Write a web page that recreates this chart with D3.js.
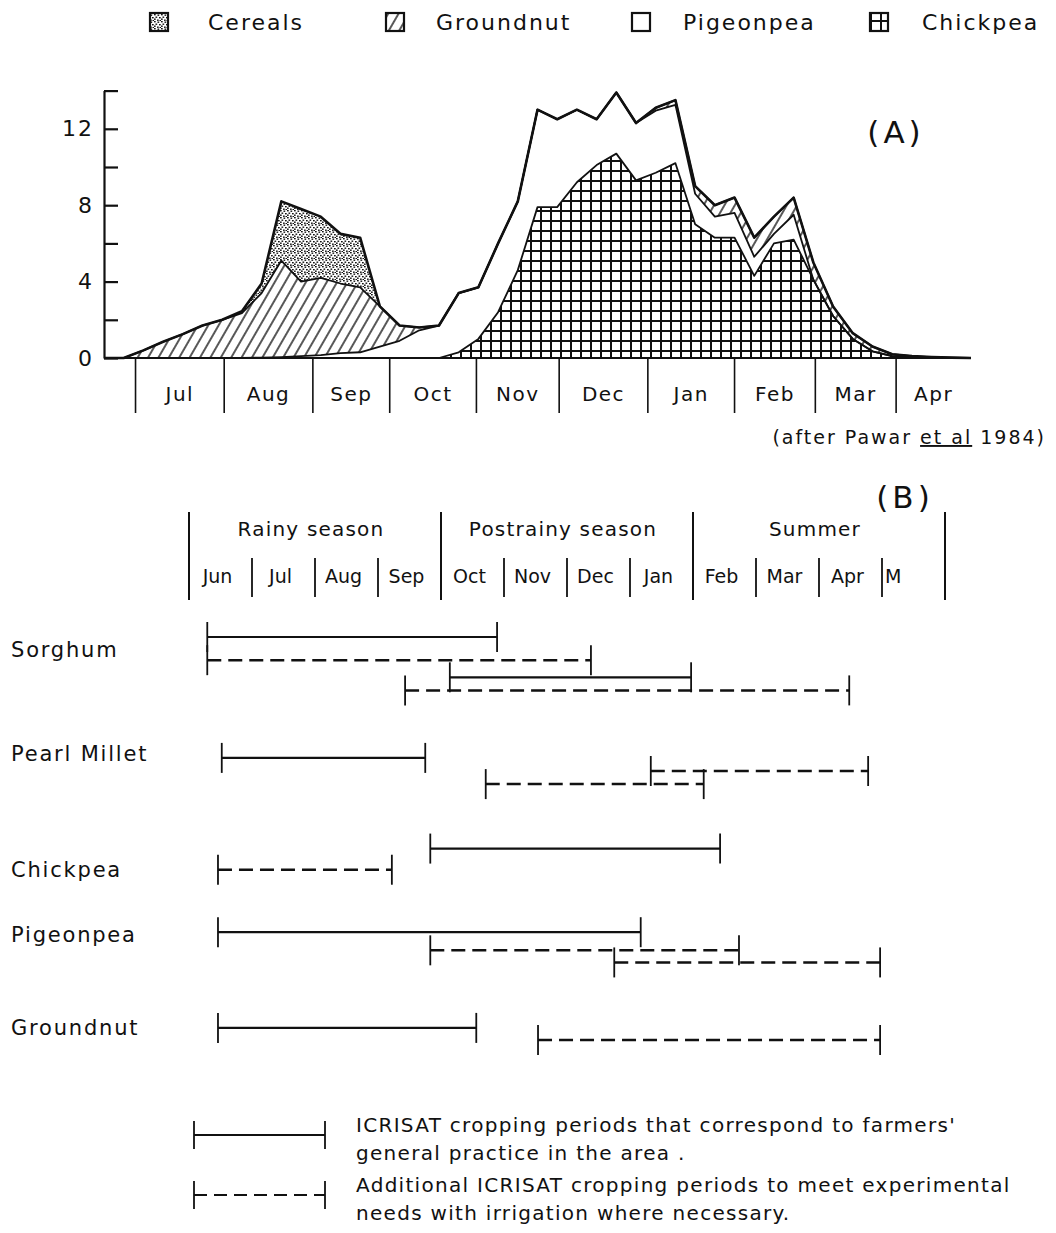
<!DOCTYPE html>
<html>
<head>
<meta charset="utf-8">
<script src="https://cdn.jsdelivr.net/npm/d3@7"></script>
<style>
  body { margin: 0; background: #fff; }
  svg { display: block; font-family: "DejaVu Sans", "Noto Sans", sans-serif; }
  text { fill: #111; }
</style>
</head>
<body>
<svg id="chart" width="1056" height="1233"></svg>
<script>
// ---- panel A: weekly area (weeks from mid June) ----
var weeks = d3.range(0, 45);
var chickpea  = [0,0,0,0,0, 0,0,0,0,0, 0,0,0,0,0, 0,0,0,0.3,1.0, 2.4,4.6,7.9,7.9,9.2,
                 10.1,10.7,9.3,9.7,10.2, 7.0,6.3,6.3,4.3,6.0, 6.2,4.1,2.2,1.0,0.35, 0.1,0.03,0.01,0,0];
var pigeonpea = [0,0,0,0,0, 0,0,0,0.02,0.05, 0.1,0.15,0.25,0.3,0.6, 0.9,1.45,1.7,3.1,2.7,
                 3.6,3.6,5.1,4.6,3.8, 2.4,3.2,3.0,3.25,3.05, 1.6,1.1,1.3,1.0,0.5, 1.3,0,0,0,0, 0,0,0,0,0];
var groundnut = [0,0,0.4,0.85,1.25, 1.7,2.0,2.35,3.38,5.05, 3.9,4.05,3.65,3.4,2.1, 0.8,0.15,0,0,0,
                 0,0,0,0,0, 0,0,0,0.15,0.25, 0.4,0.6,0.8,1.0,0.9, 0.9,0.9,0.5,0.3,0.25, 0.1,0.07,0.04,0.02,0];
var cereals   = [0,0,0,0,0, 0,0,0.1,0.5,3.1, 3.8,3.2,2.6,2.6,0, 0,0,0,0,0,
                 0,0,0,0,0, 0,0,0,0,0, 0,0,0,0,0, 0,0,0,0,0, 0,0,0,0,0];

var monthsA = ["Jul","Aug","Sep","Oct","Nov","Dec","Jan","Feb","Mar","Apr"];
var monthStartA = [1.6, 6.1, 10.6, 14.5, 18.9, 23.1, 27.6, 32.0, 36.1, 40.2];
var yTicks = [0, 2, 4, 6, 8, 10, 12, 14];
var yLabels = [0, 4, 8, 12];

var legendNames = ["Cereals", "Groundnut", "Pigeonpea", "Chickpea"];

// ---- panel B: cropping calendar (months from 1 June) ----
var monthsB = ["Jun","Jul","Aug","Sep","Oct","Nov","Dec","Jan","Feb","Mar","Apr","M"];
var seasonNames = ["Rainy season", "Postrainy season", "Summer"];
var seasonBounds = [0, 4, 8, 12];
var crops = ["Sorghum", "Pearl Millet", "Chickpea", "Pigeonpea", "Groundnut"];
var cropLane = [1.3, 11.6, 23.1, 29.6, 38.8];
// one entry per bar: crop, start month, end month, dashed?, lane
var periodCrop  = ["Sorghum","Sorghum","Sorghum","Sorghum","Pearl Millet","Pearl Millet","Pearl Millet",
                   "Chickpea","Chickpea","Pigeonpea","Pigeonpea","Pigeonpea","Groundnut","Groundnut"];
var periodStart = [0.29, 0.29, 4.14, 3.43, 0.52, 7.33, 4.71, 3.83, 0.46, 0.46, 3.83, 6.75, 0.46, 5.54];
var periodEnd   = [4.89, 6.38, 7.97, 10.48, 3.75, 10.78, 8.17, 8.43, 3.22, 7.17, 8.73, 10.97, 4.56, 10.97];
var periodDash  = [false, true, false, true, false, true, true, false, true, false, true, true, false, true];
var periodLane  = [0, 2.3, 4.0, 5.3, 12.0, 13.3, 14.6, 21.0, 23.1, 29.3, 31.1, 32.3, 38.8, 40.0];

var svg = d3.select('#chart');
svg.append('rect').attr('width', 1056).attr('height', 1233).attr('fill', '#fff');

// patterns
var defs = svg.append('defs');
var hatch = defs.append('pattern').attr('id', 'hatch')
    .attr('patternUnits', 'userSpaceOnUse').attr('width', 9).attr('height', 9)
    .attr('patternTransform', 'rotate(30)');
hatch.append('rect').attr('width', 9).attr('height', 9).attr('fill', '#fff');
hatch.append('line').attr('x1', 1).attr('y1', 0).attr('x2', 1).attr('y2', 9)
    .attr('stroke', '#111').attr('stroke-width', 1.4);

var grid = defs.append('pattern').attr('id', 'grid')
    .attr('patternUnits', 'userSpaceOnUse').attr('width', 10).attr('height', 10);
grid.append('rect').attr('width', 10).attr('height', 10).attr('fill', '#fff');
grid.append('path').attr('d', 'M0,1H10M1,0V10')
    .attr('stroke', '#111').attr('stroke-width', 2).attr('fill', 'none');

var stip = defs.append('pattern').attr('id', 'stipple')
    .attr('patternUnits', 'userSpaceOnUse').attr('width', 7).attr('height', 7);
stip.append('rect').attr('width', 7).attr('height', 7).attr('fill', '#fff');
[[0,0],[3.5,0.5],[1.5,2.5],[5,3],[0,4.5],[3,5.5],[5.5,6]].forEach(function (p) {
  stip.append('rect').attr('x', p[0]).attr('y', p[1]).attr('width', 1.7).attr('height', 1.4).attr('fill', '#111');
});

var fills = { chickpea: 'url(#grid)', pigeonpea: '#fff', groundnut: 'url(#hatch)', cereals: 'url(#stipple)' };

// ---- legend ----
var legendX = [150, 386, 632, 870];
var legendTextX = [208, 436, 683, 922];
var legendFill = ['url(#stipple)', 'url(#hatch)', '#fff', 'url(#grid)'];
legendNames.forEach(function (n, i) {
  svg.append('rect').attr('x', legendX[i]).attr('y', 13).attr('width', 18).attr('height', 18)
    .attr('fill', legendFill[i]).attr('stroke', '#111').attr('stroke-width', 2.2);
  svg.append('text').attr('x', legendTextX[i]).attr('y', 30)
    .attr('font-size', 22).attr('letter-spacing', 2).text(n);
});

// ---- panel A chart ----
var x = d3.scaleLinear().domain([0, 44]).range([104, 971]);
var y = d3.scaleLinear().domain([0, 14]).range([358, 90.6]);

var keys = ['chickpea', 'pigeonpea', 'groundnut', 'cereals'];
var table = weeks.map(function (w, i) {
  return { week: w, chickpea: chickpea[i], pigeonpea: pigeonpea[i], groundnut: groundnut[i], cereals: cereals[i] };
});
var stacked = d3.stack().keys(keys)(table);

var area = d3.area().x(function (d) { return x(d.data.week); })
    .y0(function (d) { return y(d[0]); }).y1(function (d) { return y(d[1]); });
var topLine = d3.line().x(function (d) { return x(d.data.week); }).y(function (d) { return y(d[1]); });

var plot = svg.append('g');
plot.selectAll('path.layer').data(stacked).enter().append('path')
    .attr('class', 'layer').attr('d', area)
    .attr('fill', function (s) { return fills[s.key]; });
plot.selectAll('path.edge').data(stacked).enter().append('path')
    .attr('class', 'edge').attr('d', topLine).attr('fill', 'none')
    .attr('stroke', '#111').attr('stroke-linejoin', 'round')
    .attr('stroke-width', function (s, i) { return i === keys.length - 1 ? 2.6 : 1.8; });

// y axis
svg.append('g').attr('transform', 'translate(' + x(0) + ',0)')
    .call(d3.axisLeft(y).tickValues(yTicks).tickSize(-14).tickSizeOuter(0).tickPadding(10)
      .tickFormat(function (d) { return yLabels.indexOf(d) >= 0 ? d : ''; }))
    .call(function (g) {
      g.selectAll('path, line').attr('stroke', '#111').attr('stroke-width', 2.2);
      g.selectAll('text').attr('font-size', 22).attr('letter-spacing', 2)
        .attr('font-family', '"DejaVu Sans", sans-serif').attr('fill', '#111');
    });

// x baseline + month dividers
svg.append('line').attr('x1', x(0)).attr('x2', x(43.7)).attr('y1', y(0)).attr('y2', y(0))
    .attr('stroke', '#111').attr('stroke-width', 2.2);
svg.selectAll('line.mdiv').data(monthStartA).enter().append('line')
    .attr('class', 'mdiv').attr('x1', function (d) { return x(d); }).attr('x2', function (d) { return x(d); })
    .attr('y1', y(0)).attr('y2', y(0) + 55).attr('stroke', '#111').attr('stroke-width', 1.6);
svg.selectAll('text.mlab').data(monthsA).enter().append('text')
    .attr('class', 'mlab')
    .attr('x', function (d, i) { return x(((i < monthStartA.length - 1 ? monthStartA[i + 1] : 44) + monthStartA[i]) / 2); })
    .attr('y', 401).attr('text-anchor', 'middle').attr('font-size', 20).attr('letter-spacing', 1.5)
    .text(function (d) { return d; });

svg.append('text').attr('x', 896).attr('y', 143).attr('text-anchor', 'middle')
    .attr('font-size', 31).attr('letter-spacing', 4).text('(A)');

var src = svg.append('text').attr('x', 1046).attr('y', 444).attr('text-anchor', 'end')
    .attr('font-size', 19).attr('letter-spacing', 2);
src.append('tspan').text('(after Pawar ');
src.append('tspan').attr('text-decoration', 'underline').text('et al');
src.append('tspan').text(' 1984)');

// ---- panel B ----
var xb = d3.scaleLinear().domain([0, 12]).range([189, 945]);
var lane = d3.scaleLinear().domain([0, 40]).range([637, 1040]);

svg.append('text').attr('x', 905).attr('y', 508).attr('text-anchor', 'middle')
    .attr('font-size', 31).attr('letter-spacing', 4).text('(B)');

svg.selectAll('line.sbar').data(seasonBounds).enter().append('line')
    .attr('class', 'sbar').attr('x1', function (d) { return xb(d); }).attr('x2', function (d) { return xb(d); })
    .attr('y1', 512).attr('y2', 600).attr('stroke', '#111').attr('stroke-width', 2);
svg.selectAll('text.season').data(seasonNames).enter().append('text')
    .attr('class', 'season')
    .attr('x', function (d, i) { return xb((seasonBounds[i] + seasonBounds[i + 1]) / 2) - 4; })
    .attr('y', 536).attr('text-anchor', 'middle').attr('font-size', 20).attr('letter-spacing', 1.2)
    .text(function (d) { return d; });

var innerMonths = d3.range(1, 12).filter(function (m) { return seasonBounds.indexOf(m) < 0; });
svg.selectAll('line.bdiv').data(innerMonths).enter().append('line')
    .attr('class', 'bdiv').attr('x1', function (d) { return xb(d); }).attr('x2', function (d) { return xb(d); })
    .attr('y1', 558).attr('y2', 597).attr('stroke', '#111').attr('stroke-width', 1.8);
svg.selectAll('text.bmon').data(monthsB).enter().append('text')
    .attr('class', 'bmon')
    .attr('x', function (d, i) { return i === monthsB.length - 1 ? xb(i) + 3 : xb(i + 0.5) - 3; })
    .attr('y', 583).attr('text-anchor', function (d, i) { return i === monthsB.length - 1 ? 'start' : 'middle'; })
    .attr('font-size', 19).text(function (d) { return d; });

// crop labels
svg.selectAll('text.crop').data(crops).enter().append('text')
    .attr('class', 'crop').attr('x', 11).attr('y', function (d, i) { return lane(cropLane[i]) + 7; })
    .attr('font-size', 21).attr('letter-spacing', 1.8).text(function (d) { return d; });

// periods
var periods = periodCrop.map(function (c, i) {
  return { crop: c, start: periodStart[i], end: periodEnd[i], dashed: periodDash[i], lane: periodLane[i] };
});
var pg = svg.selectAll('g.period').data(periods).enter().append('g').attr('class', 'period');
pg.append('line')
    .attr('x1', function (d) { return xb(d.start); }).attr('x2', function (d) { return xb(d.end); })
    .attr('y1', function (d) { return lane(d.lane); }).attr('y2', function (d) { return lane(d.lane); })
    .attr('stroke', '#111').attr('stroke-width', function (d) { return d.dashed ? 2.5 : 2.2; })
    .attr('stroke-dasharray', function (d) { return d.dashed ? '14,7' : null; });
pg.selectAll('line.end').data(function (d) { return [d.start, d.end].map(function (m) { return { m: m, lane: d.lane }; }); })
    .enter().append('line').attr('class', 'end')
    .attr('x1', function (d) { return xb(d.m); }).attr('x2', function (d) { return xb(d.m); })
    .attr('y1', function (d) { return lane(d.lane) - 15; }).attr('y2', function (d) { return lane(d.lane) + 15; })
    .attr('stroke', '#111').attr('stroke-width', 1.8);

// legend for panel B
var keyRows = [
  { dashed: false, y: 1135, lines: ["ICRISAT cropping periods that correspond to farmers'", "general practice in the area ."] },
  { dashed: true, y: 1195, lines: ["Additional ICRISAT cropping periods to meet experimental", "needs with irrigation where necessary."] }
];
keyRows.forEach(function (k) {
  var g = svg.append('g');
  g.append('line').attr('x1', 194).attr('x2', 325).attr('y1', k.y).attr('y2', k.y)
    .attr('stroke', '#111').attr('stroke-width', 2).attr('stroke-dasharray', k.dashed ? '13,7' : null);
  [194, 325].forEach(function (px) {
    g.append('line').attr('x1', px).attr('x2', px).attr('y1', k.y - 14).attr('y2', k.y + 14)
      .attr('stroke', '#111').attr('stroke-width', 1.8);
  });
  k.lines.forEach(function (t, j) {
    g.append('text').attr('x', 356).attr('y', k.y + j * 28 - 3)
      .attr('font-size', 20).attr('letter-spacing', 1.3).text(t);
  });
});
</script>
</body>
</html>
